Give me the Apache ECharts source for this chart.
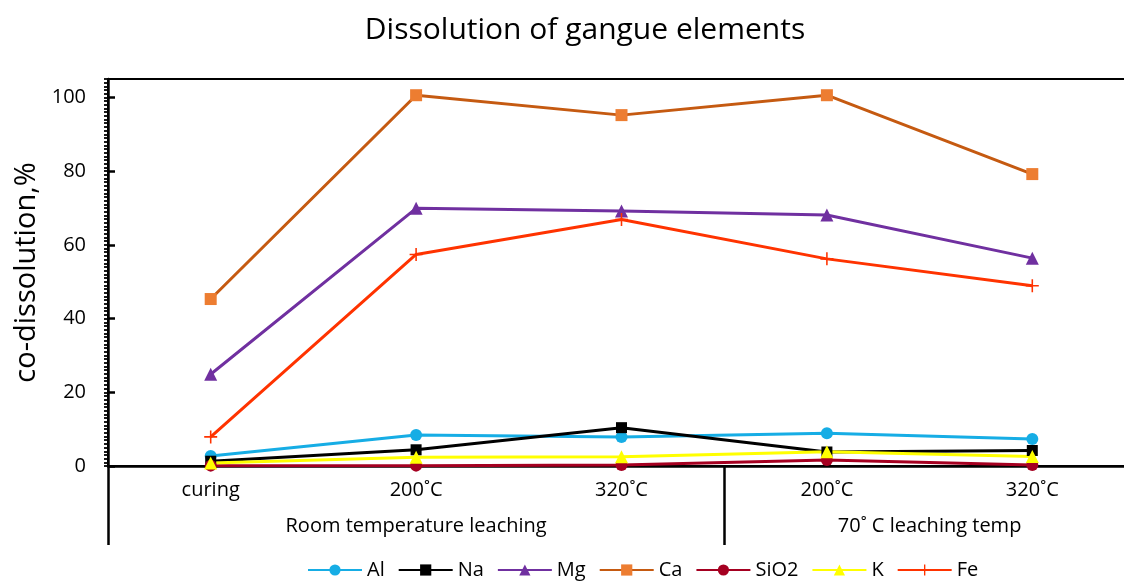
<!DOCTYPE html>
<html>
<head>
<meta charset="utf-8">
<script src="https://cdn.jsdelivr.net/npm/echarts@6/dist/echarts.min.js"></script>
<style>
  html, body { margin: 0; padding: 0; background: #fff; }
  #main { width: 1124px; height: 585px; }
</style>
</head>
<body>
<div id="main"></div>
<script>
// categories (first level) and groups (second level)
var categories = ['curing', '200˚C', '320˚C', '200˚C', '320˚C']
var groupNames = ['Room temperature leaching', '70˚ C leaching temp']
var groupCenters = [1.5, 4] // centre of each group, in category units
var groupEdges = [0, 3] // boundaries drawn as long lines

// series values, %
var al = [2.7, 8.4, 7.9, 8.9, 7.3]
var na = [1.3, 4.4, 10.4, 3.8, 4.2]
var mg = [24.9, 69.9, 69.2, 68.1, 56.4]
var ca = [45.3, 100.6, 95.2, 100.6, 79.2]
var sio2 = [0.1, 0.1, 0.3, 1.6, 0.3]
var k = [0.8, 2.4, 2.5, 3.9, 2.6]
var fe = [7.9, 57.4, 66.9, 56.2, 48.9]

var font = 'Open Sans'
var plus = 'path://M4.4,0h1.2v4.4h4.4v1.2h-4.4v4.4h-1.2v-4.4h-4.4v-1.2h4.4z'

function line(name, data, color, symbol, symbolColor, size) {
  return {
    name: name,
    type: 'line',
    data: data,
    symbol: symbol,
    symbolSize: size || 12,
    lineStyle: { color: color, width: 3 },
    itemStyle: { color: symbolColor || color },
    emphasis: { disabled: true }
  }
}

var series = [
  line('Al', al, '#16ADE5', 'circle', null, 12),
  line('Na', na, '#000000', 'rect', null, 11),
  line('Mg', mg, '#7030A0', 'triangle', null, 13),
  line('Ca', ca, '#C55A11', 'rect', '#ED7D31', 12),
  line('SiO2', sio2, '#A50021', 'circle', null, 12),
  line('K', k, '#FFFF00', 'triangle', null, 13),
  line('Fe', fe, '#FF3300', plus, '#FF3300', 13)
]
// both y axes share the same fixed scale; Fe sits on the second one so it is drawn
series[6].yAxisIndex = 1

var myChart = echarts.init(document.getElementById('main'))
var option = {
  animation: false,
  title: {
    text: 'Dissolution of gangue elements',
    left: 580,
    textAlign: 'center',
    top: 10,
    textStyle: { fontFamily: font, fontWeight: 'normal', fontSize: 30, color: '#000' }
  },
  legend: {
    bottom: 0,
    left: 302,
    itemWidth: 54,
    itemHeight: 14,
    itemGap: 13,
    textStyle: { fontFamily: font, fontSize: 20, color: '#000' },
    data: ['Al', 'Na', 'Mg', 'Ca', 'SiO2', 'K', 'Fe']
  },
  grid: {
    left: 108,
    top: 79,
    width: 1027,
    bottom: 119,
    outerBoundsMode: 'none',
    show: true,
    borderColor: '#000',
    borderWidth: 2
  },
  xAxis: [
    {
      type: 'category',
      data: categories,
      boundaryGap: true,
      axisLine: { lineStyle: { color: '#000', width: 2.5 } },
      axisTick: { interval: 0, length: 37, lineStyle: { color: '#000', width: 2.5 } },
      axisLabel: { interval: 0, margin: 14, fontFamily: font, fontSize: 20, color: '#000' }
    },
    {
      type: 'value',
      min: 0,
      max: 5,
      position: 'bottom',
      axisLine: { show: false },
      splitLine: { show: false },
      axisTick: { show: true, customValues: groupEdges, length: 79, lineStyle: { color: '#000', width: 2.5 } },
      axisLabel: {
        customValues: groupCenters,
        margin: 50,
        fontFamily: font,
        fontSize: 20,
        color: '#000',
        formatter: function (v) { return groupNames[groupCenters.indexOf(v)] }
      }
    }
  ],
  yAxis: [
    {
      type: 'value',
      min: 0,
      max: 105,
      interval: 20,
      position: 'left',
      name: 'co-dissolution,%',
      nameLocation: 'middle',
      nameGap: 56,
      nameTextStyle: { fontFamily: font, fontSize: 29, color: '#000' },
      axisLine: { show: true, lineStyle: { color: '#000', width: 2.5 } },
      axisTick: { show: true, inside: true, length: 7, lineStyle: { color: '#000', width: 2.5 } },
      axisLabel: {
        showMaxLabel: false,
        margin: 22,
        fontFamily: font,
        fontSize: 20,
        color: '#000',
        formatter: function (v) { return v % 20 === 0 ? v : '' }
      },
      splitLine: { show: false }
    },
    {
      // small outer ticks every 1 %
      type: 'value',
      min: 0,
      max: 105,
      interval: 5,
      position: 'left',
      offset: 0,
      axisLine: { show: false },
      axisLabel: { show: false },
      axisTick: { show: true, inside: false, length: 4, lineStyle: { color: '#000', width: 1.8 } },
      minorTick: { show: true, splitNumber: 5, length: 4, lineStyle: { color: '#000', width: 1.8 } },
      splitLine: { show: false }
    }
  ],
  series: series
}
myChart.setOption(option)
window.addEventListener('resize', function () {
  myChart.resize()
})
</script>
</body>
</html>
